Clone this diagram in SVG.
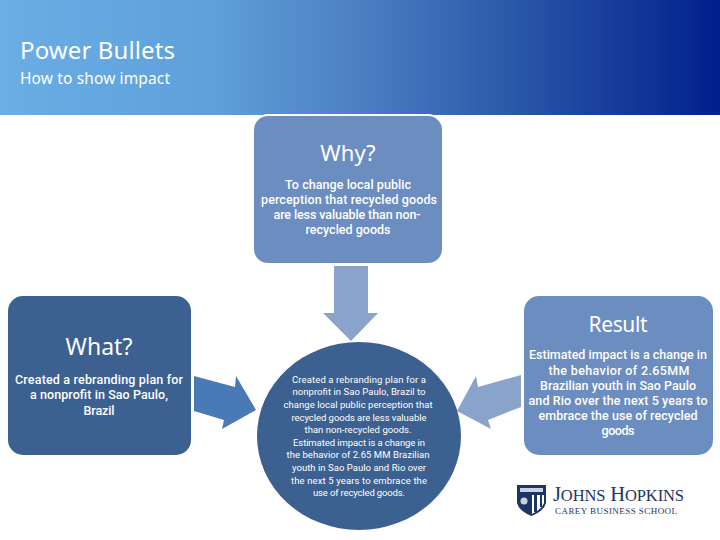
<svg xmlns="http://www.w3.org/2000/svg" width="720" height="540" viewBox="0 0 720 540">
<style>
text{font-family:"Noto Sans","Open Sans","DejaVu Sans",sans-serif;fill:#fff;text-anchor:middle}
.h{font-size:22px}
.b{font-family:Roboto,"Noto Sans",sans-serif;font-size:12.500px;font-weight:500}
.c{font-family:Roboto,"Noto Sans",sans-serif;font-size:9.500px}
.t{text-anchor:start}
.l{font-family:"Liberation Serif",serif;fill:#1d3563;text-anchor:start}
</style>
<defs>
<linearGradient id="hdr" x1="0" y1="0" x2="1" y2="0">
<stop offset="0" stop-color="#6aaee5"/>
<stop offset="0.3" stop-color="#5f9fda"/>
<stop offset="0.5" stop-color="#4b7fc2"/>
<stop offset="0.72" stop-color="#2a56a8"/>
<stop offset="1" stop-color="#00208c"/>
</linearGradient>
</defs>
<rect width="720" height="540" fill="#fff"/>
<g id="header">
<rect width="720" height="115" fill="url(#hdr)"/>
<text class="t" x="20" y="59" font-size="24" textLength="155">Power Bullets</text>
<text class="t" x="20" y="84" font-size="15.500" textLength="150">How to show impact</text>
</g>
<g id="connectors">
<path fill="#8aa3cb" d="M334 266H368V313H378L351 341L323 313H334Z"/>
<path fill="#4a7ab5" d="M194 376L235 387L236 376L256 410L222 429L224 420L194 411Z"/>
<path fill="#8aa3cb" d="M521 375L478 387L476 376L457 411L491 429L488 420L521 407Z"/>
</g>
<g id="why">
<rect x="253" y="115" width="190" height="149" rx="15" fill="#6c8dbf" stroke="#fff" stroke-width="2"/>
<text class="h" x="348" y="161">Why?</text>
<text class="b" x="348" y="189" textLength="126">To change local public</text>
<text class="b" x="349" y="204" textLength="176">perception that recycled goods</text>
<text class="b" x="347" y="219" textLength="147">are less valuable than non-</text>
<text class="b" x="348" y="234" textLength="85">recycled goods</text>
</g>
<g id="what">
<rect x="8" y="296" width="183" height="159" rx="15" fill="#3c6090"/>
<text class="h" x="99" y="355" style="font-size:23px">What?</text>
<text class="b" x="99" y="384" textLength="168">Created a rebranding plan for</text>
<text class="b" x="99" y="399" textLength="138">a nonprofit in Sao Paulo,</text>
<text class="b" x="99" y="415" textLength="31">Brazil</text>
</g>
<g id="result">
<rect x="524" y="296" width="189" height="159" rx="15" fill="#6c8dbf"/>
<text class="h" x="618" y="332" style="font-size:21px" textLength="59">Result</text>
<text class="b" x="618" y="359" textLength="178">Estimated impact is a change in</text>
<text class="b" x="619" y="375" textLength="141">the behavior of 2.65MM</text>
<text class="b" x="618" y="390" textLength="156">Brazilian youth in Sao Paulo</text>
<text class="b" x="618" y="405" textLength="179">and Rio over the next 5 years to</text>
<text class="b" x="618" y="420" textLength="159">embrace the use of recycled</text>
<text class="b" x="618" y="435" textLength="33">goods</text>
</g>
<g id="center">
<ellipse cx="359" cy="436" rx="102" ry="94" fill="#3c6090"/>
<text class="c" x="359" y="383" textLength="134">Created a rebranding plan for a</text>
<text class="c" x="359" y="395" textLength="133">nonprofit in Sao Paulo, Brazil to</text>
<text class="c" x="358" y="408" textLength="149">change local public perception that</text>
<text class="c" x="359" y="421" textLength="135">recycled goods are less valuable</text>
<text class="c" x="358" y="433" textLength="107">than non-recycled goods.</text>
<text class="c" x="359" y="446" textLength="132">Estimated impact is a change in</text>
<text class="c" x="358" y="458" textLength="143">the behavior of 2.65 MM Brazilian</text>
<text class="c" x="359" y="471" textLength="134">youth in Sao Paulo and Rio over</text>
<text class="c" x="359" y="484" textLength="136">the next 5 years to embrace the</text>
<text class="c" x="359" y="496" textLength="92">use of recycled goods.</text>
</g>
<g id="logo">
<path fill="#1d3563" d="M517 485H546V503Q544 511 531.500 516Q519 511 517 503Z"/>
<rect x="520" y="488" width="23" height="4" fill="#c9d2e2"/>
<path fill="#fff" d="M532 495H544V503Q542 509 532 514Z"/>
<path fill="#1d3563" d="M534 495h3v17h-3zM540 495h2v12h-2z"/>
<circle cx="524" cy="501" r="3.500" fill="#c9d2e2"/>
<text class="l" x="553" y="501" font-size="20.500" textLength="131">J<tspan font-size="16.500">OHNS</tspan> H<tspan font-size="16.500">OPKINS</tspan></text>
<text class="l" x="555" y="514" font-size="9" textLength="122">CAREY BUSINESS SCHOOL</text>
</g>
</svg>
